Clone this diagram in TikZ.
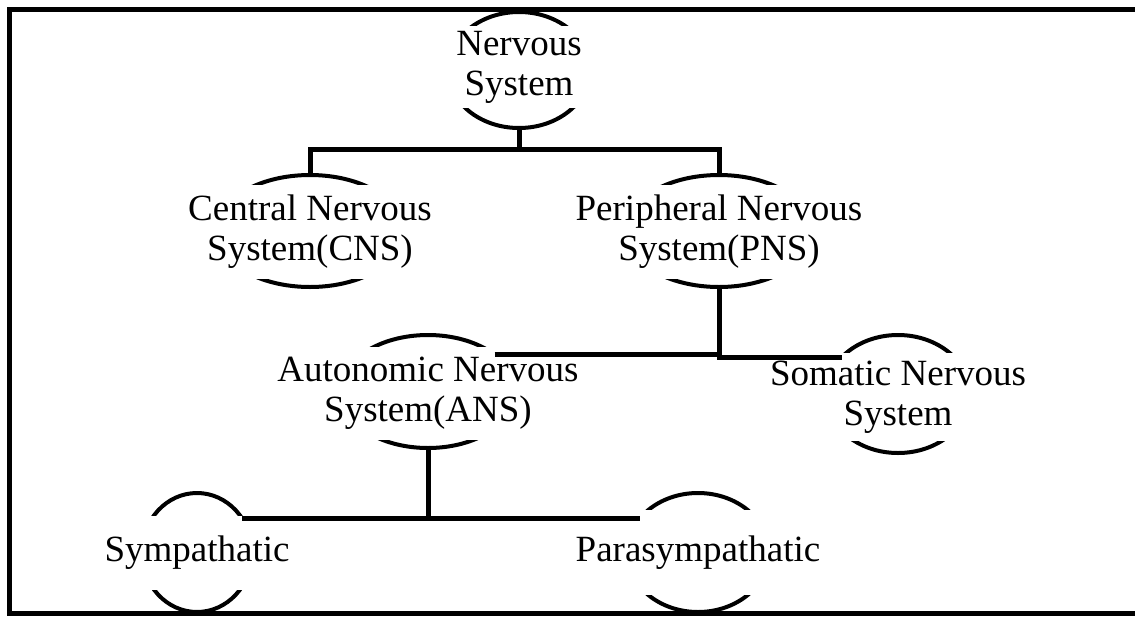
\documentclass[tikz,border=0pt]{standalone}
\usepackage{fontspec}
\setmainfont{Liberation Serif}
\usetikzlibrary{shapes.geometric}
\begin{document}
\begin{tikzpicture}[x=1pt,y=-1pt,
  ell/.style={draw, ellipse, line width=4pt, inner sep=0pt, outer sep=0pt},
  lbl/.style={fill=white, align=center, inner sep=0pt, font=\fontsize{37}{40}\selectfont},
  conn/.style={line width=5pt},
  frame/.style={line width=5.5pt}]
\useasboundingbox (0,0) rectangle (1135,616);
% frame
\draw[frame] (1145,9.5) -- (9.5,9.5) -- (9.5,613.5) -- (1145,613.5);
% ellipses
\node[ell, minimum width=142pt, minimum height=116pt] (nsE)   at (519,70) {};
\node[ell, minimum width=188pt, minimum height=112pt] (cnsE)  at (310,231) {};
\node[ell, minimum width=188pt, minimum height=112pt] (pnsE)  at (719,231) {};
\node[ell, minimum width=176pt, minimum height=113pt] (ansE)  at (428,391.5) {};
\node[ell, minimum width=144pt, minimum height=118pt] (somE)  at (898,394) {};
\node[ell, minimum width=110pt, minimum height=119pt] (symE)  at (197,552.5) {};
\node[ell, minimum width=142pt, minimum height=119pt] (paraE) at (698,552.5) {};
% labels
\node[lbl, minimum width=165pt, minimum height=82pt] (ns)   at (519,67) {Nervous\\System};
\node[lbl, minimum height=94pt] (cns)  at (310,232) {Central Nervous\\System(CNS)};
\node[lbl, minimum height=94pt] (pns)  at (719,232) {Peripheral Nervous\\System(PNS)};
\node[lbl, minimum height=93pt] (ans)  at (428,393) {Autonomic Nervous\\System(ANS)};
\node[lbl, minimum height=88pt] (som)  at (898,397) {Somatic Nervous\\System};
\node[lbl, minimum height=74pt] (sym)  at (197,552.5) {Sympathatic};
\node[lbl, minimum height=85pt] (para) at (698,552.5) {Parasympathatic};
% connectors
\draw[conn] (nsE.south) -- ++(0,21) coordinate (j1);
\draw[conn] (cnsE.north) |- (j1) -| (pnsE.north);
\draw[conn] (pnsE.south) |- (somE.147);
\draw[conn] (ansE.29) -- (ansE.29 -| pnsE.south);
\draw[conn] (ansE.south) -- (ansE.south |- symE.37);
\draw[conn] (symE.37) -- (symE.37 -| paraE.150);
\end{tikzpicture}
\end{document}
